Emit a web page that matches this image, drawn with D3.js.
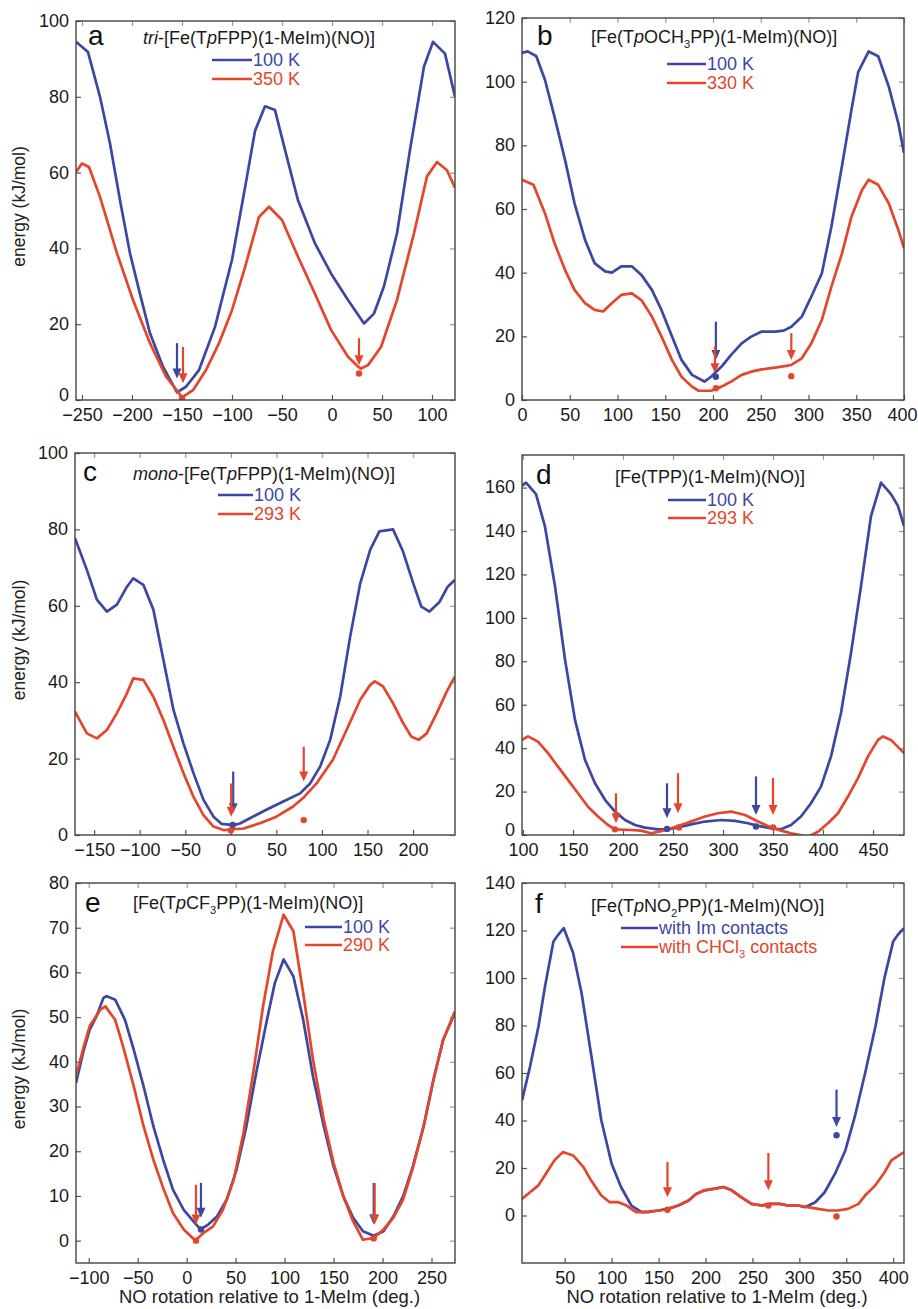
<!DOCTYPE html>
<html>
<head>
<meta charset="utf-8">
<script src="https://cdn.jsdelivr.net/npm/d3@7"></script>
<style>
  body { margin: 0; background: #fff; }
  svg text { font-family: "Liberation Sans", Arial, Helvetica, sans-serif; }
</style>
</head>
<body>
<svg id="chart" width="918" height="1309"></svg>
<script>
// ---- data: [angle (deg), energy (kJ/mol)] ----
const a100K = [[-256,94.5],[-244,91.8],[-232,80],[-222,67.7],[-212,52.7],[-202,38.7],[-192,28],[-182,17.6],[-169,8.8],[-155,2],[-146,3.5],[-133,7.9],[-117,19.3],[-100,37],[-87,56],[-77,71],[-67,77.5],[-57,76.5],[-47,66],[-34,52.7],[-17,41.3],[-1,33.4],[16,26.4],[32,20.2],[42,22.8],[52,30],[65,44],[78,66],[92,88],[101,94.5],[113,91.4],[123,80]]
const a350K = [[-256,60.2],[-250,62.4],[-243,61.5],[-232,53.6],[-215,38.7],[-199,26.4],[-182,15],[-166,6.2],[-153,1.8],[-150,0.7],[-139,2.6],[-126,7.9],[-113,15],[-100,23.7],[-87,35],[-73,48.3],[-63,51],[-50,47.5],[-34,37.8],[-17,28],[-1,18.5],[16,11.4],[26,8.8],[29,8.3],[36,9.2],[49,14],[65,26.4],[82,44],[95,59],[105,62.8],[115,60.6],[123,56]]

const b100K = [[0,109],[6,109.5],[15,108],[24,100.6],[34,89],[45,75.5],[55,61.8],[66,50.3],[76,43],[87,40.4],[94,40],[104,42],[115,42],[125,39.3],[136,34.6],[146,28.3],[157,20],[167,12.6],[178,7.9],[191,5.8],[198,7.3],[209,10.5],[219,14.2],[230,17.8],[240,19.9],[251,21.5],[265,21.5],[274,21.8],[282,23],[293,26.2],[303,32.5],[314,39.8],[324,54.5],[335,73.4],[345,91.2],[352,103],[363,109.5],[373,108],[384,98.5],[394,87],[400,77.6]]
const b330K = [[0,69.2],[12,67.6],[24,58.7],[34,49.3],[45,40.9],[55,34.6],[66,30.4],[76,28.3],[85,27.8],[94,30.4],[104,33],[115,33.5],[125,31.4],[136,26.2],[146,20],[157,12.6],[167,7.3],[178,4.2],[185,2.9],[198,2.9],[209,4.2],[219,5.8],[230,7.9],[240,8.9],[251,9.6],[261,10],[272,10.5],[282,11],[293,13.1],[303,17.8],[314,25.2],[324,35.6],[335,46],[345,57.6],[356,66],[363,69.2],[373,67.6],[384,61.8],[394,53.5],[400,47.7]]

const c100K = [[-171,77.7],[-158,69.4],[-147,61.6],[-136,58.5],[-125,60.3],[-114,65],[-107,67.2],[-96,65.5],[-85,59],[-74,45.9],[-63,32.8],[-52,24],[-41,16.2],[-30,9.2],[-19,4.8],[-10,2.9],[3,2.6],[10,3],[21,4.4],[39,6.6],[57,8.7],[76,10.9],[87,13.5],[98,17.9],[109,24.9],[120,36.2],[131,52],[142,65.9],[153,74.7],[163,79.5],[178,80],[189,74.2],[200,66],[209,59.8],[218,58.5],[229,61],[238,65],[246,66.8]]
const c293K = [[-171,32.3],[-158,26.6],[-147,25.3],[-136,27.5],[-125,31.9],[-114,37.1],[-107,41],[-96,40.6],[-85,36.2],[-74,30.1],[-63,23.1],[-52,16.2],[-41,10],[-30,5.2],[-19,2.2],[-8,1.3],[3,1.5],[14,1.7],[32,3.1],[50,4.8],[68,7.4],[79,9.6],[94,13.5],[112,19.7],[127,27.5],[142,35.4],[153,39.3],[158,40.2],[167,38.9],[178,34.5],[189,29.3],[198,25.8],[206,24.9],[215,26.6],[226,31.9],[237,37.6],[246,41.5]]

const d100K = [[99,160.8],[103,162.3],[113,157],[122,142],[132,114.6],[142,80.8],[152,53],[162,34.6],[172,23.8],[182,16.2],[192,10.8],[202,6.9],[212,4.6],[222,3.4],[235,2.6],[245,2.6],[255,3.5],[268,4.9],[282,6.2],[298,6.9],[312,6.5],[325,5.4],[335,4.2],[348,3.1],[358,2.6],[368,4.6],[378,8.5],[388,14.6],[398,22.3],[408,36.2],[418,56.2],[428,83.8],[438,114.6],[448,146.9],[458,162.3],[468,157],[475,151.5],[481,142.3]]
const d293K = [[99,43.8],[105,45.4],[115,43],[125,37.7],[135,31.5],[145,25.4],[155,19.2],[165,13],[175,8.5],[185,4.6],[192,2.6],[208,2.3],[218,2],[228,0.8],[238,1.8],[248,3.1],[258,4.6],[268,6.2],[282,8.5],[295,10],[308,10.8],[322,9.2],[335,6.2],[348,3.5],[358,2],[368,0.8],[382,-0.5],[385,-0.8],[395,1.5],[405,5.4],[415,10],[425,17.7],[435,26.2],[445,36.2],[455,43.8],[460,45.4],[468,43.8],[481,37.7]]

const e100K = [[-113,35.3],[-105,42.7],[-99,47.2],[-92,50.2],[-85,54.3],[-82,54.7],[-73,53.9],[-63,49.4],[-54,42.7],[-44,34.5],[-34,25.6],[-24,18.1],[-14,11.4],[-3,6.9],[7,4.3],[14,2.5],[22,3.6],[31,5.4],[41,9.2],[51,15.9],[61,25.6],[71,37.5],[82,49.4],[90,57.6],[99,62.9],[109,59.1],[119,49.4],[129,36.7],[140,25.6],[150,16.6],[160,9.9],[170,5.1],[180,2.1],[191,1.1],[201,2.1],[211,5.4],[221,9.9],[231,16.6],[242,25.6],[252,36],[262,45],[274,51]]
const e290K = [[-113,36.8],[-105,43.5],[-99,48],[-88,51.7],[-83,52.4],[-73,49.4],[-65,43.5],[-54,34.5],[-44,25.6],[-34,18.1],[-24,11.8],[-14,6.2],[-3,2.5],[9,0],[17,1.7],[27,3.2],[37,6.9],[48,13.6],[58,24.1],[68,37.5],[78,52.4],[88,64.7],[99,72.9],[109,69.2],[119,55.4],[129,40.5],[140,27.1],[150,17.4],[160,9.9],[170,4.3],[180,0.2],[191,0.6],[201,2.5],[211,5.1],[221,9.2],[231,16.3],[242,25.6],[252,36],[262,45],[274,51.3]]

const fIm = [[4.5,48.5],[13,62.6],[22,79.5],[29,96.4],[38,115.4],[43,118.2],[49,121],[59,110.5],[68,93.6],[78,68.2],[89,40.1],[100,21.8],[110,12],[121,4.2],[132,1.4],[140,1.6],[150,2.1],[160,2.8],[171,4.2],[182,6.3],[190,9.1],[199,10.6],[210,11.3],[219,12],[228,10.6],[238,7.7],[249,4.9],[260,4.2],[270,4.9],[279,4.9],[288,4.2],[299,4.2],[306,3.5],[317,5.6],[327,9.8],[338,17.6],[349,27.4],[359,41.5],[370,59.8],[381,79.5],[391,100.6],[400,115.4],[405,118.2],[411.5,121]]
const fCHCl3 = [[4.5,7],[13,9.8],[22,12.7],[30,17.6],[39,23.2],[48,26.7],[59,25.3],[70,20.4],[78,14.8],[89,8.4],[98,5.6],[107,5.6],[116,4.2],[126,1.4],[139,1.4],[150,2.1],[160,2.8],[171,4.2],[182,6.3],[190,9.1],[199,10.6],[210,11.3],[219,12],[228,10.6],[238,7.7],[249,4.9],[260,4.2],[270,4.9],[279,4.9],[288,4.2],[299,4.2],[309,3.5],[320,2.8],[331,2.1],[341,2.1],[352,2.8],[363,4.9],[370,8.4],[381,12.7],[391,18.3],[398,23.2],[411.5,26.7]]

// arrows: [series index, angle, top energy, tip energy]; dots: [series index, angle, energy]
const aArrows = [[0,-155,15,5.7],[1,-149,14,4.4],[1,27,16.3,9.2]]
const aDots = [[1,-150,0.5],[1,27,7]]
const bArrows = [[0,203,24.6,12.6],[1,202,16.8,8.4],[1,282,21,12.6]]
const bDots = [[0,203,7.3],[1,203,3.7],[1,282,7.5]]
const cArrows = [[0,2.6,16.6,5.7],[1,0.4,13.5,4.8],[1,80,23.1,14]]
const cDots = [[0,2,2.6],[1,0,1.2],[1,80,3.9]]
const dArrows = [[1,193,19.2,5.4],[0,244,23.8,7.7],[1,255,28.5,10],[0,333,27,9.2],[1,350,26.2,9.2]]
const dDots = [[1,192,2.6],[0,244,2.8],[1,256,3.5],[0,333,3.9],[1,350,3.5]]
const eArrows = [[0,14.6,12.9,5.1],[1,9.5,12.5,3.6],[0,191,12.9,3.6],[1,192,12.9,3.6]]
const eDots = [[1,9.5,0],[0,14.6,2.5],[1,191,0.5]]
const fArrows = [[1,159.5,22.5,7.7],[1,267,26.3,10.6],[0,339.6,53,37.3]]
const fDots = [[1,159.5,2.4],[1,267,4.2],[0,339.6,33.8],[1,339.6,-0.4]]

// tick values
const aXTicks = [-250,-200,-150,-100,-50,0,50,100]
const bXTicks = [0,50,100,150,200,250,300,350,400]
const cXTicks = [-150,-100,-50,0,50,100,150,200]
const dXTicks = [100,150,200,250,300,350,400,450]
const eXTicks = [-100,-50,0,50,100,150,200,250]
const fXTicks = [50,100,150,200,250,300,350,400]
const yTicks100 = [0,20,40,60,80,100]
const yTicks120 = [0,20,40,60,80,100,120]
const yTicks160 = [0,20,40,60,80,100,120,140,160]
const yTicks80 = [0,10,20,30,40,50,60,70,80]
const yTicks140 = [0,20,40,60,80,100,120,140]

// titles: [text, style] with style "" | "i" (italic) | "sub"
const aTitle = [["tri","i"],["-[Fe(T",""],["p","i"],["FPP)(1-MeIm)(NO)]",""]]
const bTitle = [["[Fe(T",""],["p","i"],["OCH",""],["3","sub"],["PP)(1-MeIm)(NO)]",""]]
const cTitle = [["mono","i"],["-[Fe(T",""],["p","i"],["FPP)(1-MeIm)(NO)]",""]]
const dTitle = [["[Fe(TPP)(1-MeIm)(NO)]",""]]
const eTitle = [["[Fe(T",""],["p","i"],["CF",""],["3","sub"],["PP)(1-MeIm)(NO)]",""]]
const fTitle = [["[Fe(T",""],["p","i"],["NO",""],["2","sub"],["PP)(1-MeIm)(NO)]",""]]
const fLegend = [[["with Im contacts",""]],[["with CHCl",""],["3","sub"],[" contacts",""]]]

const BLUE = "#3b47a2", RED = "#e3462a"
const colors = [BLUE, RED]
const FS = 18
const W = 918

// panel layout (pixels)
const panels = [
  { letter: "a", box: [76, 21, 455, 400], xd: [-256, 123], yd: [0, 100], xt: aXTicks, yt: yTicks100,
    series: [a100K, a350K], labels: [[["100 K",""]],[["350 K",""]]], title: aTitle, arrows: aArrows, dots: aDots,
    letterPos: [88, 45], titlePos: [143, 44], legend: [212, 252, 66, 85], yTitle: true, raiseZero: true },
  { letter: "b", box: [522, 18, 904, 400], xd: [0, 400], yd: [0, 120], xt: bXTicks, yt: yTicks120,
    series: [b100K, b330K], labels: [[["100 K",""]],[["330 K",""]]], title: bTitle, arrows: bArrows, dots: bDots,
    letterPos: [537, 45], titlePos: [591, 43], legend: [667, 706, 70, 89] },
  { letter: "c", box: [75, 453, 455, 835], xd: [-171, 246], yd: [0, 100], xt: cXTicks, yt: yTicks100,
    series: [c100K, c293K], labels: [[["100 K",""]],[["293 K",""]]], title: cTitle, arrows: cArrows, dots: cDots,
    letterPos: [83, 481], titlePos: [133, 480], legend: [218, 253, 501, 520], yTitle: true },
  { letter: "d", box: [522, 455, 904, 835], xd: [99, 481], yd: [0, 175], xt: dXTicks, yt: yTicks160,
    series: [d100K, d293K], labels: [[["100 K",""]],[["293 K",""]]], title: dTitle, arrows: dArrows, dots: dDots,
    letterPos: [536, 484], titlePos: [615, 483], legend: [668, 706, 506, 524], raiseZero: true },
  { letter: "e", box: [76, 883, 455, 1263], xd: [-113, 274], yd: [-5, 80], xt: eXTicks, yt: yTicks80,
    series: [e100K, e290K], labels: [[["100 K",""]],[["290 K",""]]], title: eTitle, arrows: eArrows, dots: eDots,
    letterPos: [85, 912], titlePos: [133, 909], legend: [305, 342, 933, 951], yTitle: true, xTitle: true },
  { letter: "f", box: [522, 883, 904, 1263], xd: [4.5, 411.5], yd: [-20, 140], xt: fXTicks, yt: yTicks140,
    series: [fIm, fCHCl3], labels: fLegend, title: fTitle, arrows: fArrows, dots: fDots,
    letterPos: [535, 913], titlePos: [591, 912], legend: [621, 658, 934, 953], xTitle: true }
]

const svg = d3.select("#chart")

function richText(sel, segs, size) {
  segs.forEach((s, i) => {
    const prevSub = i > 0 && segs[i - 1][1] === "sub"
    const t = sel.append("tspan").text(s[0])
    if (s[1] === "i") t.attr("font-style", "italic")
    if (s[1] === "sub") t.attr("font-size", size * 0.62).attr("dy", size * 0.3)
    else if (prevSub) t.attr("dy", -size * 0.3)
  })
}

panels.forEach((p, pi) => {
  const [x0, y0, x1, y1] = p.box
  const x = d3.scaleLinear().domain(p.xd).range([x0, x1])
  const y = d3.scaleLinear().domain(p.yd).range([y1, y0])
  const g = svg.append("g")

  g.append("clipPath").attr("id", "clip" + pi)
    .append("rect").attr("x", x0).attr("y", y0).attr("width", x1 - x0).attr("height", y1 - y0)

  // axes with inward ticks on all four sides
  const axB = g.append("g").attr("transform", `translate(0,${y1})`)
    .call(d3.axisBottom(x).tickValues(p.xt).tickSize(-5).tickPadding(8))
  const axL = g.append("g").attr("transform", `translate(${x0},0)`)
    .call(d3.axisLeft(y).tickValues(p.yt).tickSize(-5).tickPadding(7))
  const axT = g.append("g").attr("transform", `translate(0,${y0})`)
    .call(d3.axisTop(x).tickValues(p.xt).tickSize(-5).tickFormat(""))
  const axR = g.append("g").attr("transform", `translate(${x1},0)`)
    .call(d3.axisRight(y).tickValues(p.yt).tickSize(-5).tickFormat(""))
  ;[axB, axL, axT, axR].forEach(a => {
    a.select(".domain").remove()
    a.selectAll("line").attr("stroke", "#555").attr("stroke-width", 1.2)
    a.selectAll("text").attr("fill", "#1a1a1a").style("font-size", FS + "px")
      .style("font-family", '"Liberation Sans", Arial, sans-serif')
  })
  axL.selectAll("text").attr("dy", "0.3em")
  // the "0" label sits in the corner next to the first x label: lift it a little
  if (p.raiseZero) axL.selectAll(".tick text").filter(d => d === 0).attr("dy", "0.05em")
  // keep the last x label inside the page
  axB.selectAll(".tick text").each(function () {
    const b = this.getBBox(), tx = x(d3.select(this).datum())
    if (tx + b.x + b.width > W - 1) d3.select(this).attr("x", W - 1 - (tx + b.x + b.width))
  })
  axT.selectAll("line").attr("stroke", "#999")
  axR.selectAll("line").attr("stroke", "#999")

  // curves
  const line = d3.line().x(d => x(d[0])).y(d => y(d[1]))
  const plot = g.append("g").attr("clip-path", `url(#clip${pi})`)
  p.series.forEach((s, si) => {
    plot.append("path").datum(s).attr("d", line)
      .attr("fill", "none").attr("stroke", colors[si])
      .attr("stroke-width", 2.7).attr("stroke-linejoin", "round")
  })

  // dots and arrows
  p.dots.forEach(d => {
    plot.append("circle").attr("cx", x(d[1])).attr("cy", y(d[2])).attr("r", 3.2).attr("fill", colors[d[0]])
  })
  p.arrows.forEach(a => {
    const px = x(a[1]), top = y(a[2]), tip = y(a[3])
    plot.append("line").attr("x1", px).attr("x2", px).attr("y1", top).attr("y2", tip - 8)
      .attr("stroke", colors[a[0]]).attr("stroke-width", 2.2)
    plot.append("path").attr("d", `M${px - 4.5},${tip - 10}L${px + 4.5},${tip - 10}L${px},${tip}Z`)
      .attr("fill", colors[a[0]])
  })

  // frame
  g.append("rect").attr("x", x0).attr("y", y0).attr("width", x1 - x0).attr("height", y1 - y0)
    .attr("fill", "none").attr("stroke", "#444").attr("stroke-width", 1.4)

  // letter and title
  g.append("text").attr("x", p.letterPos[0]).attr("y", p.letterPos[1])
    .attr("font-size", 28).attr("fill", "#111").text(p.letter)
  const tt = g.append("text").attr("x", p.titlePos[0]).attr("y", p.titlePos[1])
    .attr("font-size", FS).attr("fill", "#1a1a1a")
  richText(tt, p.title, FS)

  // legend
  const [lx0, lx1, ly0, ly1] = p.legend
  ;[ly0, ly1].forEach((ly, i) => {
    g.append("line").attr("x1", lx0).attr("x2", lx1).attr("y1", ly - 6).attr("y2", ly - 6)
      .attr("stroke", colors[i]).attr("stroke-width", 2.4)
    const lt = g.append("text").attr("x", lx1 + 1).attr("y", ly)
      .attr("font-size", FS).attr("fill", colors[i])
    richText(lt, p.labels[i], FS)
  })

  if (p.yTitle) {
    g.append("text").attr("transform", `translate(25,${(y0 + y1) / 2 - 4}) rotate(-90)`)
      .attr("text-anchor", "middle").attr("font-size", 17.5).attr("fill", "#222")
      .text("energy (kJ/mol)")
  }
  if (p.xTitle) {
    g.append("text").attr("x", (x0 + x1) / 2 + 4).attr("y", 1303)
      .attr("text-anchor", "middle").attr("font-size", 18.5).attr("fill", "#222")
      .text("NO rotation relative to 1-MeIm (deg.)")
  }
})
</script>
</body>
</html>
